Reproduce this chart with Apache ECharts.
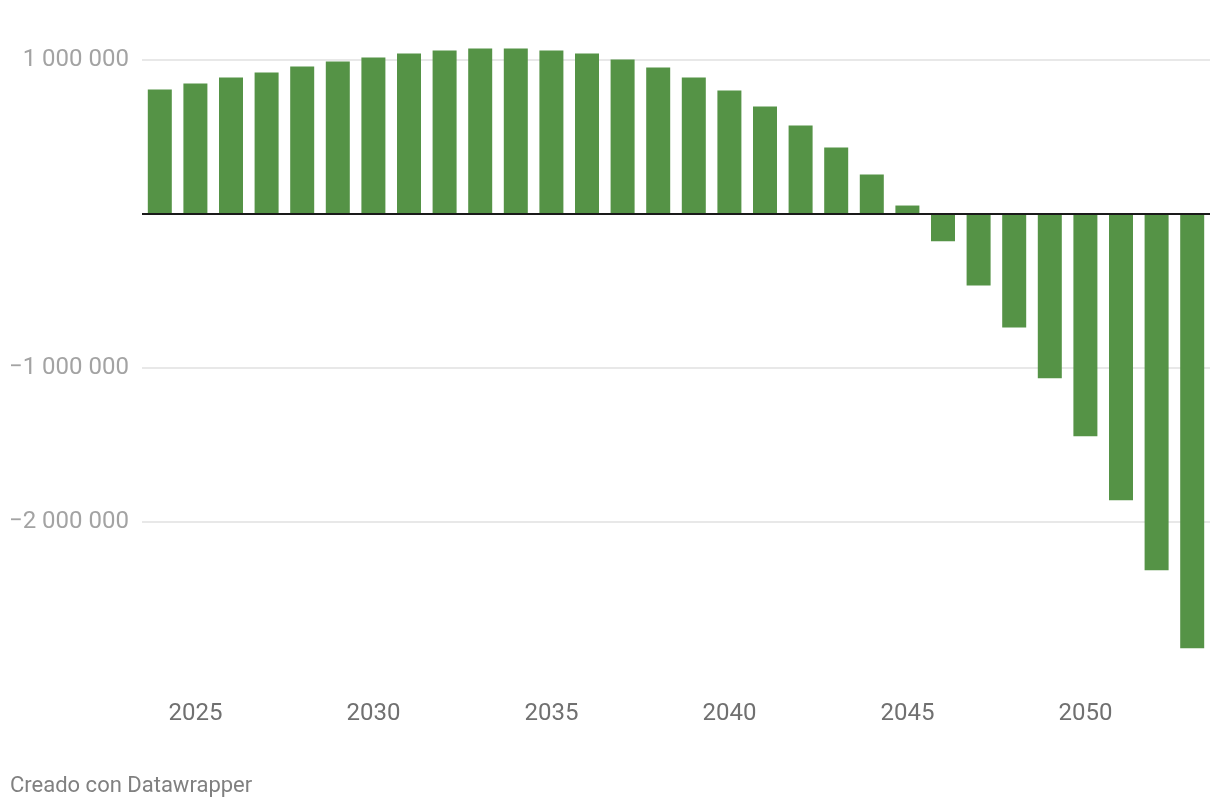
<!DOCTYPE html>
<html><head><meta charset="utf-8">
<script src="https://cdn.jsdelivr.net/npm/echarts@6/dist/echarts.min.js"></script>
<style>html,body{margin:0;padding:0;background:#fff}#c{width:1220px;height:808px}</style>
</head><body><div id="c"></div>
<script>
const years = ['2024','2025','2026','2027','2028','2029','2030','2031','2032','2033','2034','2035','2036','2037','2038','2039','2040','2041','2042','2043','2044','2045','2046','2047','2048','2049','2050','2051','2052','2053'];
const values = [808000, 847000, 886000, 919000, 958000, 990000, 1016000, 1042000, 1062000, 1075000, 1075000, 1062000, 1042000, 1003000, 951000, 886000, 802000, 698000, 575000, 432000, 256000, 55000, -177000, -464000, -737000, -1066000, -1443000, -1858000, -2313000, -2819000];
const labeledYears = ['2025','2030','2035','2040','2045','2050'];
const yLabeledTicks = [1000000, -1000000, -2000000];
const footer = 'Creado con Datawrapper';

function fmt(v) {
  const s = Math.abs(v).toString().replace(/\B(?=(\d{3})+(?!\d))/g, ' ');
  return (v < 0 ? '\u2212' : '') + s;
}

const chart = echarts.init(document.getElementById('c'), null, {renderer: 'canvas'});
chart.setOption({
  animation: false,
  backgroundColor: '#ffffff',
  textStyle: {fontFamily: 'Roboto'},
  grid: {left: 142, right: 10, top: 60, bottom: 132, containLabel: false},
  xAxis: {
    type: 'category',
    data: years,
    axisLine: {show: false, onZero: false},
    axisTick: {show: false},
    splitLine: {show: false},
    axisLabel: {
      interval: function (i, v) { return labeledYears.indexOf(v) >= 0; },
      color: '#707070', fontSize: 24, fontFamily: 'Roboto', margin: 26
    }
  },
  yAxis: {
    type: 'value',
    min: -3000000, max: 1000000, interval: 1000000,
    axisLine: {show: false},
    axisTick: {show: false},
    axisLabel: {
      color: '#a3a3a3', fontSize: 24, fontFamily: 'Roboto', margin: 13,
      formatter: function (v) { return yLabeledTicks.indexOf(v) >= 0 ? fmt(v) : ''; }
    },
    splitLine: {lineStyle: {color: ['rgba(0,0,0,0)', '#e8e8e8', '#e8e8e8', 'rgba(0,0,0,0)', '#e8e8e8'], width: 2}}
  },
  series: [{
    type: 'bar',
    data: values,
    barWidth: 24,
    clip: false,
    itemStyle: {color: '#559346'},
    markLine: {
      silent: true, symbol: 'none', label: {show: false},
      lineStyle: {color: '#1a1a1a', width: 2, type: 'solid'},
      data: [{yAxis: 0}]
    }
  }],
  graphic: [{
    type: 'text', left: 10, top: 775,
    style: {text: footer, fill: '#808080', fontSize: 22, fontFamily: 'Roboto'}
  }]
});
</script>
</body></html>
